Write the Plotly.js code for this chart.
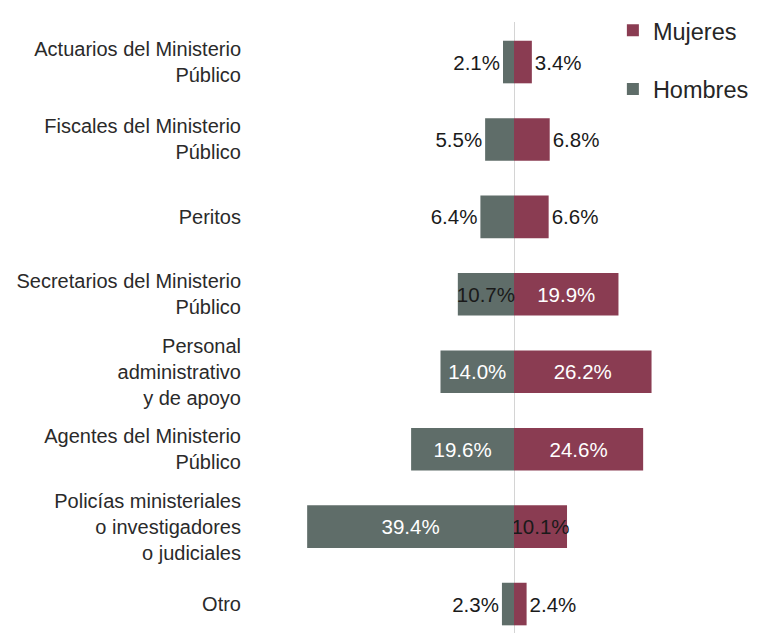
<!DOCTYPE html>
<html>
<head>
<meta charset="utf-8">
<script src="https://cdn.plot.ly/plotly-3.0.1.min.js"></script>
<style>html,body{margin:0;padding:0;background:#fff;}#chart{width:762px;height:633px;}</style>
</head>
<body>
<div id="chart"></div>
<script>
const categories = [
  "Actuarios del Ministerio<br>Público",
  "Fiscales del Ministerio<br>Público",
  "Peritos",
  "Secretarios del Ministerio<br>Público",
  "Personal<br>administrativo<br>y de apoyo",
  "Agentes del Ministerio<br>Público",
  "Policías ministeriales<br>o investigadores<br>o judiciales",
  "Otro"
];
const mujeres = [3.4, 6.8, 6.6, 19.9, 26.2, 24.6, 10.1, 2.4];
const hombres = [2.1, 5.5, 6.4, 10.7, 14.0, 19.6, 39.4, 2.3];

const seriesNames = ["Mujeres", "Hombres"];
const colors = { Mujeres: "#8a3c52", Hombres: "#5f6d69" };
const FONT = "Liberation Sans, Arial, sans-serif";

function pos(v) { return v < 10 ? "outside" : "inside"; }
function col(v) { return v < 11 ? "#1a1a1a" : "#ffffff"; }
function lbl(v) { return v.toFixed(1) + "%"; }

const common = {
  type: "bar",
  orientation: "h",
  y: categories,
  width: 0.55,
  insidetextanchor: "middle",
  constraintext: "none",
  textangle: 0,
  cliponaxis: false,
  hoverinfo: "skip"
};

const traces = [
  Object.assign({}, common, {
    name: seriesNames[0],
    legendgroup: "m",
    x: mujeres,
    text: mujeres.map(lbl),
    textposition: mujeres.map(pos),
    textfont: { family: FONT, size: 20.5, color: mujeres.map(col) },
    marker: { color: colors.Mujeres }
  }),
  Object.assign({}, common, {
    name: seriesNames[1],
    legendgroup: "h",
    x: hombres.map(v => -v),
    text: hombres.map(lbl),
    textposition: hombres.map(pos),
    textfont: { family: FONT, size: 20.5, color: hombres.map(col) },
    marker: { color: colors.Hombres }
  })
];

const layout = {
  width: 762,
  height: 633,
  margin: { l: 246, r: 0, t: 22, b: 0, pad: 0 },
  paper_bgcolor: "#ffffff",
  plot_bgcolor: "#ffffff",
  barmode: "relative",
  font: { family: FONT, color: "#262626" },
  xaxis: {
    range: [-51.05, 47.24],
    showgrid: false,
    showticklabels: false,
    zeroline: true,
    zerolinecolor: "#d4d4d4",
    zerolinewidth: 1,
    fixedrange: true
  },
  yaxis: {
    type: "category",
    categoryorder: "array",
    categoryarray: categories,
    range: [7.374, -0.517],
    showgrid: false,
    zeroline: false,
    ticks: "",
    ticklabelstandoff: 4,
    tickfont: { family: FONT, size: 20, color: "#2a2a2a" },
    fixedrange: true
  },
  showlegend: true,
  legend: {
    x: 0.711,
    xanchor: "left",
    y: 1.022,
    yanchor: "top",
    traceorder: "grouped",
    tracegroupgap: 25,
    font: { family: FONT, size: 23.5, color: "#262626" },
    bgcolor: "rgba(0,0,0,0)"
  }
};

Plotly.newPlot("chart", traces, layout, { staticPlot: true, displayModeBar: false });
</script>
</body>
</html>
